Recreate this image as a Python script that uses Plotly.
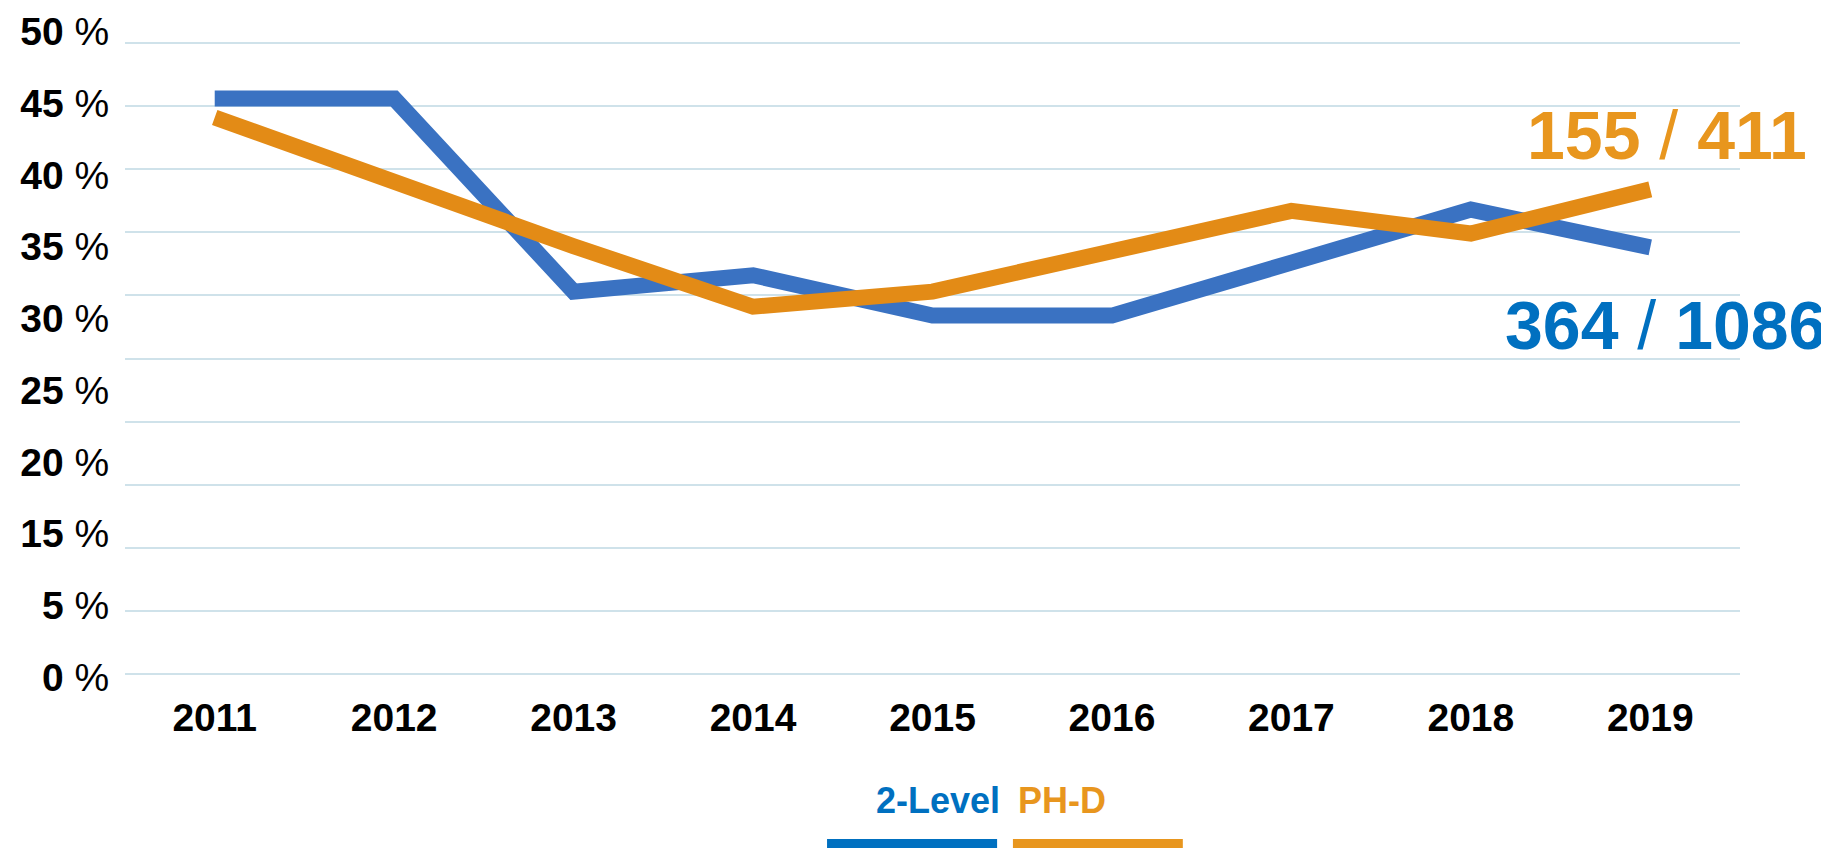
import plotly.graph_objects as go

# data
years = [2011, 2012, 2013, 2014, 2015, 2016, 2017, 2018, 2019]
two_level = [45.6, 45.6, 30.3, 31.6, 28.4, 28.4, 32.6, 36.8, 33.8]
ph_d = [44.1, 38.9, 33.9, 29.1, 30.3, 33.5, 36.7, 34.9, 38.4]

# left axis labels as printed (the 10 % label is missing on the original)
pct_labels = ["0", "5", "15", "20", "25", "30", "35", "40", "45", "50"]
grid_vals = [0, 5, 10, 15, 20, 25, 30, 35, 40, 45, 50]

label_orange = ["155", "411"]
label_blue = ["364", "1086"]

blueLine = '#3a72c2'
orangeLine = '#e38b16'
blueText = '#0070c0'
orangeText = '#e8961e'
gridColor = '#cfe2ea'

fig = go.Figure()
fig.add_trace(go.Scatter(x=years, y=two_level, mode='lines', name='2-Level',
                         line=dict(color=blueLine, width=16), hoverinfo='skip'))
fig.add_trace(go.Scatter(x=years, y=ph_d, mode='lines', name='PH-D',
                         line=dict(color=orangeLine, width=16), hoverinfo='skip'))

fig.update_layout(
    width=1829, height=848,
    paper_bgcolor='white', plot_bgcolor='white',
    showlegend=False,
    margin=dict(l=117, r=97, t=22, b=176),
    font=dict(family='Liberation Sans, Arial', color='black'),
    xaxis=dict(range=[2010.5, 2019.5], tickvals=years, automargin=False,
               ticktext=[f"<b>{y}</b>" for y in years],
               tickfont=dict(size=39, family='Liberation Sans, Arial'),
               ticks='outside', ticklen=3, tickcolor='rgba(0,0,0,0)',
               showgrid=False, zeroline=False, showline=False),
    yaxis=dict(range=[-0.475, 51.03], tickvals=grid_vals, showticklabels=False,
               automargin=False,
               showgrid=True, gridcolor=gridColor, gridwidth=2,
               zeroline=False, showline=False),
    yaxis2=dict(overlaying='y', side='left', range=[-0.042, 9.024], automargin=False,
                tickvals=list(range(len(pct_labels))),
                ticktext=[f"<b>{p}</b> %" for p in pct_labels],
                tickfont=dict(size=39, family='Liberation Sans, Arial'),
                ticks='outside', ticklen=7, tickcolor='rgba(0,0,0,0)',
                showgrid=False, zeroline=False, showline=False),
)

# helper trace so the label axis is drawn
fig.add_trace(go.Scatter(x=[years[0]], y=[0], yaxis='y2', mode='markers',
                         marker=dict(opacity=0), hoverinfo='skip', showlegend=False))

fig.add_annotation(text=f"<b>{label_orange[0]}</b> / <b>{label_orange[1]}</b>",
                   xref='paper', yref='paper', x=1.043, y=0.838, xanchor='right', yanchor='middle',
                   showarrow=False, font=dict(size=68, color=orangeText, family='Liberation Sans, Arial'))
fig.add_annotation(text=f"<b>{label_blue[0]}</b> / <b>{label_blue[1]}</b>",
                   xref='paper', yref='paper', x=1.0545, y=0.546, xanchor='right', yanchor='middle',
                   showarrow=False, font=dict(size=68, color=blueText, family='Liberation Sans, Arial'))

# legend, drawn the way the original has it
fig.add_annotation(text="<b>2-Level</b>", xref='paper', yref='paper', x=0.543, y=-0.185,
                   xanchor='right', yanchor='middle', showarrow=False,
                   font=dict(size=36, color=blueText, family='Liberation Sans, Arial'))
fig.add_annotation(text="<b>PH-D</b>", xref='paper', yref='paper', x=0.552, y=-0.185,
                   xanchor='left', yanchor='middle', showarrow=False,
                   font=dict(size=36, color=orangeText, family='Liberation Sans, Arial'))
fig.add_shape(type='rect', xref='paper', yref='paper', x0=0.4347, x1=0.540, y0=-0.27, y1=-0.2446,
              fillcolor=blueText, line=dict(width=0))
fig.add_shape(type='rect', xref='paper', yref='paper', x0=0.5498, x1=0.655, y0=-0.27, y1=-0.2446,
              fillcolor=orangeText, line=dict(width=0))

fig.write_html("out.html")
